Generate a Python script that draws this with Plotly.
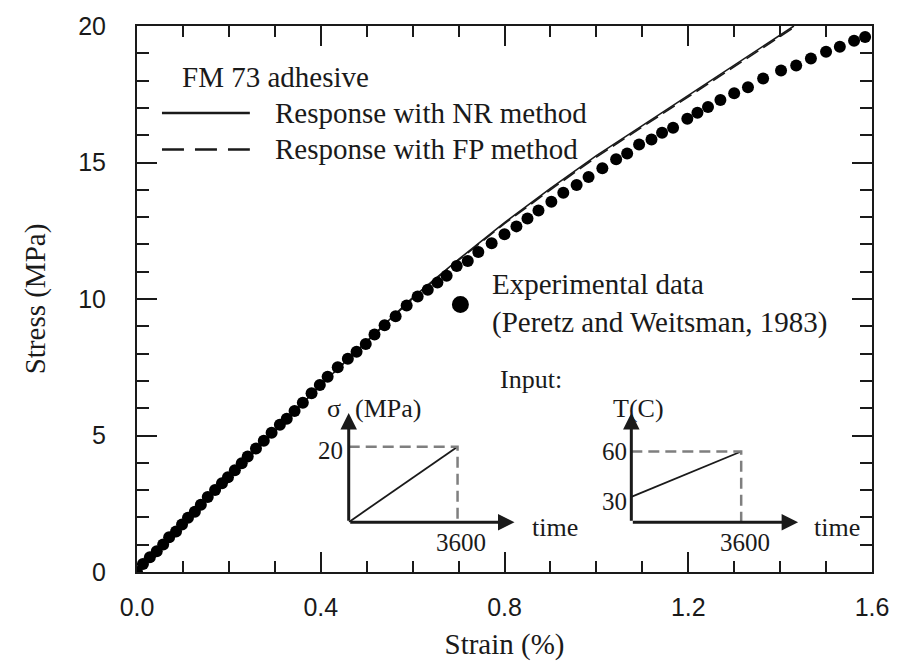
import plotly.graph_objects as go

# ---------------- data ----------------
strain_exp = [0, 0.013, 0.028, 0.043, 0.057, 0.070, 0.085, 0.098, 0.111, 0.126, 0.139, 0.154,
              0.170, 0.185, 0.198, 0.213, 0.228, 0.241, 0.259, 0.276, 0.293, 0.311, 0.326, 0.343,
              0.361, 0.380, 0.398, 0.415, 0.437, 0.459, 0.478, 0.498, 0.517, 0.539, 0.563, 0.587,
              0.611, 0.633, 0.654, 0.674, 0.696, 0.720, 0.743, 0.772, 0.800, 0.826, 0.850, 0.874,
              0.902, 0.928, 0.957, 0.983, 1.013, 1.043, 1.067, 1.093, 1.120, 1.143, 1.167, 1.198,
              1.220, 1.243, 1.270, 1.300, 1.330, 1.363, 1.402, 1.435, 1.467, 1.500, 1.530, 1.561,
              1.585]
stress_exp = [0, 0.29, 0.54, 0.76, 1.01, 1.27, 1.48, 1.74, 1.99, 2.21, 2.46, 2.75,
              3.00, 3.25, 3.47, 3.73, 3.98, 4.23, 4.52, 4.81, 5.10, 5.39, 5.61, 5.90,
              6.20, 6.55, 6.85, 7.15, 7.50, 7.81, 8.07, 8.35, 8.70, 9.04, 9.37, 9.76,
              10.09, 10.34, 10.60, 10.85, 11.21, 11.39, 11.72, 12.04, 12.37, 12.66, 12.95, 13.24,
              13.56, 13.89, 14.18, 14.47, 14.79, 15.12, 15.33, 15.66, 15.84, 16.09, 16.27, 16.60,
              16.82, 17.03, 17.29, 17.54, 17.76, 18.08, 18.37, 18.55, 18.81, 19.06, 19.24, 19.46,
              19.60]

strain_nr = [0, 0.2, 0.4, 0.6, 0.7, 0.8, 0.9, 1.0, 1.1, 1.2, 1.3, 1.43]
stress_nr = [0, 3.45, 6.85, 10.05, 11.45, 12.80, 14.05, 15.25, 16.35, 17.45, 18.55, 20.0]

strain_fp = [0, 0.2, 0.4, 0.6, 0.7, 0.8, 0.9, 1.0, 1.1, 1.2, 1.3, 1.435]
stress_fp = [0, 3.45, 6.85, 10.02, 11.42, 12.76, 14.00, 15.20, 16.30, 17.40, 18.50, 20.0]

# experimental-data key marker (strain, stress)
exp_key = (0.704, 9.80)

# inset schematics (input histories)
time_pts = [0, 3600]
sigma_pts = [0, 20]
temp_pts = [30, 60]

x_ticks = [0.0, 0.4, 0.8, 1.2, 1.6]
x_ticklabels = ["0.0", "0.4", "0.8", "1.2", "1.6"]
y_ticks = [0, 5, 10, 15, 20]

# ---------------- layout helpers ----------------
W, H = 901, 667
L, R, T, B = 137, 28, 20, 94
PW, PH = W - L - R, H - T - B


def px(x):
    return (x - L) / PW


def py(y):
    return (H - B - y) / PH


SERIF = "Liberation Serif"
SANS = "Liberation Sans"
INK = "#1a1a1a"
GREY = "#7f7f7f"

fig = go.Figure()

fig.add_trace(go.Scatter(x=strain_nr, y=stress_nr, mode="lines",
                         line=dict(color=INK, width=1.6), showlegend=False))
fig.add_trace(go.Scatter(x=strain_fp, y=stress_fp, mode="lines",
                         line=dict(color=INK, width=1.6, dash="14px,6px"), showlegend=False))
fig.add_trace(go.Scatter(x=strain_exp, y=stress_exp, mode="markers",
                         marker=dict(color="black", size=12), showlegend=False))

# inset 1: stress input
fig.add_trace(go.Scatter(x=time_pts, y=sigma_pts, mode="lines", xaxis="x2", yaxis="y2",
                         line=dict(color=INK, width=1.8), showlegend=False))
fig.add_trace(go.Scatter(x=[time_pts[0], time_pts[1], time_pts[1]],
                         y=[sigma_pts[1], sigma_pts[1], sigma_pts[0]],
                         mode="lines", xaxis="x2", yaxis="y2",
                         line=dict(color=GREY, width=2.5, dash="11px,6px"), showlegend=False))
# inset 2: temperature input
fig.add_trace(go.Scatter(x=time_pts, y=temp_pts, mode="lines", xaxis="x3", yaxis="y3",
                         line=dict(color=INK, width=1.8), showlegend=False))
fig.add_trace(go.Scatter(x=[time_pts[0], time_pts[1], time_pts[1]],
                         y=[temp_pts[1], temp_pts[1], 13.37],
                         mode="lines", xaxis="x3", yaxis="y3",
                         line=dict(color=GREY, width=2.5, dash="11px,6px"), showlegend=False))

axis_common = dict(showline=True, linecolor=INK, linewidth=2, mirror="allticks",
                   ticks="inside", tickcolor=INK, tickwidth=2, ticklen=20,
                   showgrid=False, zeroline=False,
                   tickfont=dict(family=SANS, size=25, color=INK))

fig.update_layout(
    width=W, height=H,
    margin=dict(l=L, r=R, t=T, b=B),
    paper_bgcolor="white", plot_bgcolor="white",
    font=dict(family=SERIF, color=INK),
    xaxis=dict(range=[0, 1.6], tickvals=x_ticks, ticktext=x_ticklabels,
               minor=dict(dtick=0.1, ticks="inside", ticklen=11, tickwidth=2, tickcolor=INK),
               ticklabelstandoff=12,
               title=dict(text="Strain (%)", font=dict(family=SERIF, size=29, color=INK),
                          standoff=14),
               **axis_common),
    yaxis=dict(range=[0, 20], tickvals=y_ticks,
               minor=dict(dtick=1, ticks="inside", ticklen=12, tickwidth=2, tickcolor=INK),
               ticklabelstandoff=24,
               title=dict(text="Stress (MPa)", font=dict(family=SERIF, size=29, color=INK),
                          standoff=24),
               **axis_common),
    xaxis2=dict(domain=[px(349), px(515)], range=[0, 5483], visible=False, anchor="y2"),
    yaxis2=dict(domain=[py(522.5), py(412)], range=[0, 28.9], visible=False, anchor="x2"),
    xaxis3=dict(domain=[px(632), px(799)], range=[0, 5465], visible=False, anchor="y3"),
    yaxis3=dict(domain=[py(522.5), py(412)], range=[13.37, 85.43], visible=False, anchor="x3"),
)

ann = []


def text(x, y, s, size=27, xanchor="left", yanchor="middle", font=SERIF, align="left"):
    ann.append(dict(x=px(x), y=py(y), xref="paper", yref="paper", text=s, showarrow=False,
                    xanchor=xanchor, yanchor=yanchor, align=align,
                    font=dict(family=font, size=size, color=INK)))


# legend block
text(180, 72, "FM 73 adhesive", size=29)
text(273, 108, "Response with NR method", size=29)
text(273, 145, "Response with FP method", size=29)
text(490, 301, "Experimental data<br>(Peretz and Weitsman, 1983)", size=29)
text(498, 378, "Input:", size=26)

# inset labels
text(343, 407, "σ", size=26, xanchor="right")
text(353, 407, "(MPa)", size=26)
text(345, 450, "20", size=25, xanchor="right")
text(461, 543, "3600", size=25, xanchor="center")
text(531, 528, "time", size=26)
text(639, 407, "T(C)", size=26, xanchor="center")
text(630, 451, "60", size=25, xanchor="right")
text(630, 502, "30", size=25, xanchor="right")
text(746, 543, "3600", size=25, xanchor="center")
text(813, 528, "time", size=26)

# inset axis arrows
for xa, ya, xmax, ymin, ymax in [("x2", "y2", 5483, 0, 28.9), ("x3", "y3", 5465, 13.37, 85.43)]:
    ann.append(dict(x=xmax, y=ymin, ax=0, ay=ymin, xref=xa, yref=ya, axref=xa, ayref=ya,
                    text="", showarrow=True, arrowhead=2, arrowsize=1.1, arrowwidth=3,
                    arrowcolor=INK))
    ann.append(dict(x=0, y=ymax, ax=0, ay=ymin, xref=xa, yref=ya, axref=xa, ayref=ya,
                    text="", showarrow=True, arrowhead=2, arrowsize=1.1, arrowwidth=3,
                    arrowcolor=INK))

fig.update_layout(annotations=ann)

# legend line samples
shapes = [
    dict(type="line", xref="paper", yref="paper", x0=px(162), x1=px(250), y0=py(108), y1=py(108),
         line=dict(color=INK, width=2.5)),
    dict(type="line", xref="paper", yref="paper", x0=px(162), x1=px(250), y0=py(145), y1=py(145),
         line=dict(color=INK, width=2.5, dash="22px,11px")),
    dict(type="circle", xref="x", yref="y", xsizemode="pixel", ysizemode="pixel",
         xanchor=exp_key[0], yanchor=exp_key[1], x0=-8.5, x1=8.5, y0=-8.5, y1=8.5,
         fillcolor="black", line=dict(color="black", width=0)),
]
fig.update_layout(shapes=shapes)

fig.write_html("out.html")
